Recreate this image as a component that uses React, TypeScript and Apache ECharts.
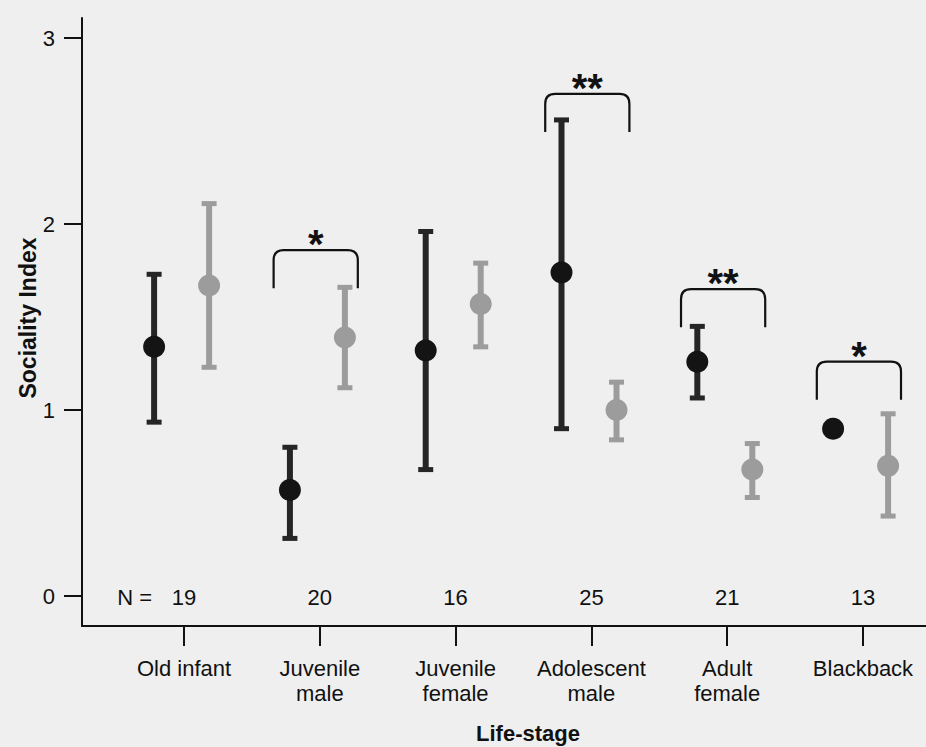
import React, { useEffect, useRef } from 'react';
import * as echarts from 'echarts';

// ---- data ----
const categories = ['Old infant', 'Juvenile\nmale', 'Juvenile\nfemale', 'Adolescent\nmale', 'Adult\nfemale', 'Blackback'];
const sampleSizes = [19, 20, 16, 25, 21, 13];
const yTicks = [0, 1, 2, 3];
const xTicks = [0, 1, 2, 3, 4, 5];
const darkMean = [1.34, 0.57, 1.32, 1.74, 1.26, 0.9];
const darkLow: (number | null)[] = [0.935, 0.31, 0.68, 0.9, 1.065, null];
const darkHigh: (number | null)[] = [1.73, 0.8, 1.96, 2.56, 1.45, null];
const grayMean = [1.67, 1.39, 1.57, 1.0, 0.68, 0.7];
const grayLow = [1.23, 1.12, 1.34, 0.84, 0.53, 0.43];
const grayHigh = [2.11, 1.66, 1.79, 1.15, 0.82, 0.98];
const bracketCategory = [1, 3, 4, 5];
const bracketTop = [1.86, 2.7, 1.65, 1.26];
const bracketLabel = ['*', '**', '**', '*'];

// ---- style constants ----
const DARK = '#252525';
const DARK_DOT = '#141414';
const GRAY = '#9c9c9c';
const DARK_OFF = -0.22;
const GRAY_OFF = 0.185;
const BR_LEFT = -0.34;
const BR_RIGHT = 0.28;
const BR_LEG = 0.205;
const FONT = 'Liberation Sans, Arial, sans-serif';
const INK = '#111';

function errorBarSeries(low: (number | null)[], high: (number | null)[], off: number, color: string) {
  const data: number[][] = [];
  low.forEach((l, i) => {
    const h = high[i];
    if (l != null && h != null) data.push([i + off, l, h]);
  });
  return {
    type: 'custom',
    data,
    encode: { x: 0, y: [1, 2] },
    z: 2,
    renderItem: (params: any, api: any) => {
      const x = api.value(0);
      const lo = api.coord([x, api.value(1)]);
      const hi = api.coord([x, api.value(2)]);
      return {
        type: 'group',
        children: [
          { type: 'line', shape: { x1: lo[0], y1: lo[1], x2: hi[0], y2: hi[1] }, style: { stroke: color, lineWidth: 6 } },
          { type: 'rect', shape: { x: lo[0] - 7.5, y: lo[1] - 2.5, width: 15, height: 5 }, style: { fill: color } },
          { type: 'rect', shape: { x: hi[0] - 7.5, y: hi[1] - 2.5, width: 15, height: 5 }, style: { fill: color } },
        ],
      };
    },
  };
}

export default function App() {
  const ref = useRef<HTMLDivElement>(null);
  useEffect(() => {
    if (!ref.current) return;
    const chart = echarts.init(ref.current, undefined, { renderer: 'svg' });
    const option: any = {
      animation: false,
      backgroundColor: '#efefef',
      grid: { left: 82, right: 0, top: 18, bottom: 121 },
      xAxis: {
        type: 'value',
        min: -0.751,
        max: 5.464,
        splitLine: { show: false },
        axisLine: { show: true, onZero: false, lineStyle: { color: INK, width: 2 } },
        axisTick: { show: true, customValues: xTicks, length: 20, lineStyle: { color: INK, width: 2 } },
        axisLabel: {
          show: true,
          customValues: xTicks,
          margin: 30,
          formatter: (v: number) => categories[Math.round(v)] ?? '',
          fontFamily: FONT,
          fontSize: 22,
          lineHeight: 25,
          color: INK,
        },
      },
      yAxis: {
        type: 'value',
        min: -0.161,
        max: 3.108,
        splitLine: { show: false },
        axisLine: { show: true, onZero: false, lineStyle: { color: INK, width: 2 } },
        axisTick: { show: true, customValues: yTicks, length: 18, lineStyle: { color: INK, width: 2 } },
        axisLabel: {
          show: true,
          customValues: yTicks,
          margin: 27,
          fontFamily: FONT,
          fontSize: 22,
          color: INK,
        },
      },
      graphic: [
        {
          type: 'text',
          x: 528,
          y: 733,
          style: { text: 'Life-stage', font: `bold 22px ${FONT}`, textAlign: 'center', textVerticalAlign: 'middle', align: 'center', verticalAlign: 'middle', fill: INK },
        },
        {
          type: 'text',
          x: 28,
          y: 318,
          rotation: Math.PI / 2,
          style: { text: 'Sociality Index', font: `bold 23px ${FONT}`, textAlign: 'center', textVerticalAlign: 'middle', align: 'center', verticalAlign: 'middle', fill: INK },
        },
      ],
      series: [
        errorBarSeries(darkLow, darkHigh, DARK_OFF, DARK),
        errorBarSeries(grayLow, grayHigh, GRAY_OFF, GRAY),
        {
          type: 'scatter',
          z: 3,
          symbolSize: 22,
          itemStyle: { color: DARK_DOT, opacity: 1 },
          data: darkMean.map((v, i) => [i + DARK_OFF, v]),
        },
        {
          type: 'scatter',
          z: 3,
          symbolSize: 22,
          itemStyle: { color: GRAY, opacity: 1 },
          data: grayMean.map((v, i) => [i + GRAY_OFF, v]),
        },
        {
          type: 'custom',
          z: 4,
          data: bracketCategory.map((c, i) => [c, bracketTop[i]]),
          encode: { x: 0, y: 1 },
          renderItem: (params: any, api: any) => {
            const c = api.value(0);
            const top = api.value(1);
            const p1 = api.coord([c + BR_LEFT, top]);
            const p2 = api.coord([c + BR_RIGHT, top]);
            const pb = api.coord([c, top - BR_LEG]);
            const r = 10;
            const d = `M${p1[0]},${pb[1]} L${p1[0]},${p1[1] + r} Q${p1[0]},${p1[1]} ${p1[0] + r},${p1[1]} L${p2[0] - r},${p2[1]} Q${p2[0]},${p2[1]} ${p2[0]},${p2[1] + r} L${p2[0]},${pb[1]}`;
            return {
              type: 'group',
              children: [
                { type: 'path', shape: { pathData: d }, style: { stroke: INK, lineWidth: 2.2, fill: null } },
                {
                  type: 'text',
                  x: (p1[0] + p2[0]) / 2,
                  y: p1[1] - 6,
                  style: { text: bracketLabel[params.dataIndex], font: `bold 40px ${FONT}`, textAlign: 'center', textVerticalAlign: 'middle', align: 'center', verticalAlign: 'middle', fill: INK },
                },
              ],
            };
          },
        },
        {
          type: 'custom',
          z: 5,
          data: sampleSizes.map((n, i) => [i, 0, n]),
          encode: { x: 0, y: 1 },
          renderItem: (params: any, api: any) => {
            const p = api.coord([api.value(0), api.value(1)]);
            const children: any[] = [
              {
                type: 'text',
                x: p[0],
                y: p[1] + 1,
                style: { text: String(api.value(2)), font: `22px ${FONT}`, textAlign: 'center', textVerticalAlign: 'middle', align: 'center', verticalAlign: 'middle', fill: INK },
              },
            ];
            if (params.dataIndex === 0) {
              children.push({
                type: 'text',
                x: p[0] - 32,
                y: p[1] + 1,
                style: { text: 'N =', font: `22px ${FONT}`, textAlign: 'right', textVerticalAlign: 'middle', align: 'right', verticalAlign: 'middle', fill: INK },
              });
            }
            return { type: 'group', children };
          },
        },
      ],
    };
    chart.setOption(option);
    return () => chart.dispose();
  }, []);
  return <div ref={ref} style={{ position: 'absolute', left: 0, top: 0, width: 926, height: 747 }} />;
}
